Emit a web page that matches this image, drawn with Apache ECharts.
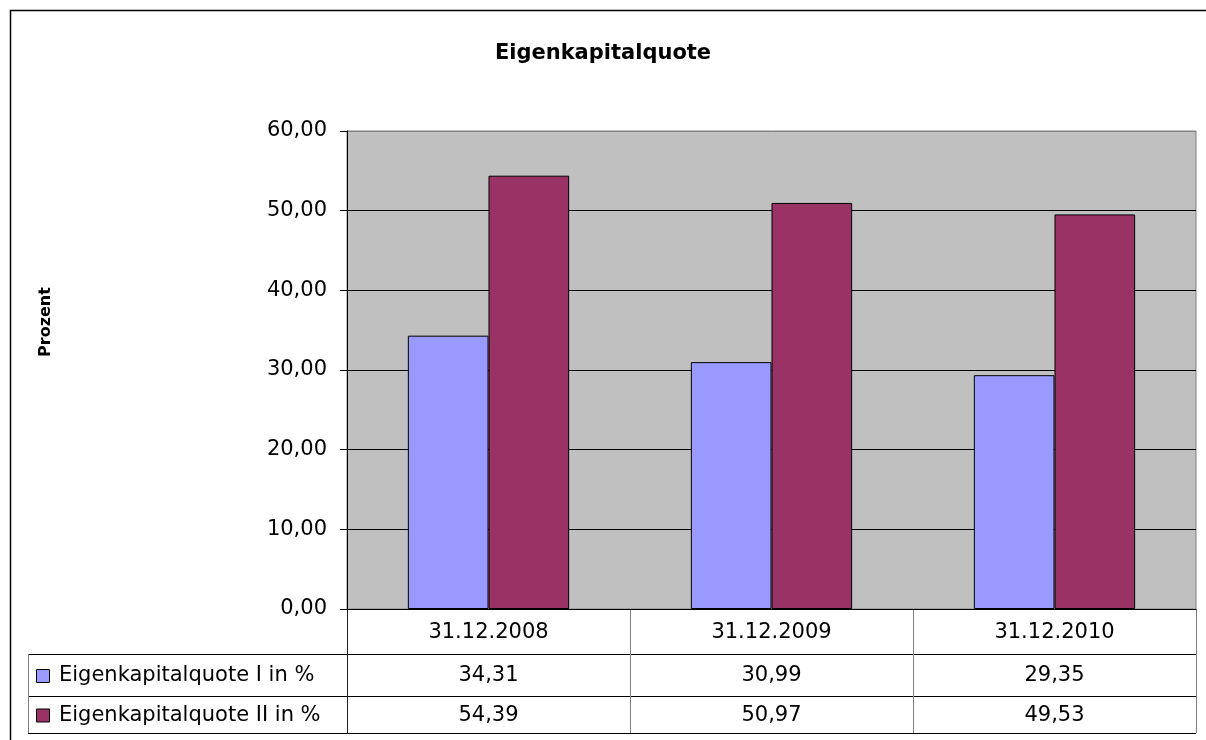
<!DOCTYPE html>
<html>
<head>
<meta charset="utf-8">
<script src="https://cdn.jsdelivr.net/npm/echarts@6/dist/echarts.min.js"></script>
<style>
html, body { margin: 0; padding: 0; background: #fff; }
#chart { width: 1206px; height: 740px; }
</style>
</head>
<body>
<div id="chart"></div>
<script>
// data
const categories = ['31.12.2008', '31.12.2009', '31.12.2010'];
const seriesNames = ['Eigenkapitalquote I in %', 'Eigenkapitalquote II in %'];
const quoteI = [34.31, 30.99, 29.35];
const quoteII = [54.39, 50.97, 49.53];
const colors = ['#9999FF', '#993366'];

const FONT = 'DejaVu Sans';
const fmt = v => v.toFixed(2).replace('.', ',');

// plot layout
const gridLeft = 347, gridRight = 1196, gridTop = 131, axisY = 609;
const rowLines = [axisY, 654, 696, 733];   // table row borders
const tableLeft = 28;

var chart = echarts.init(document.getElementById('chart'));

// data table under the plot + frame + axis title
function tableGraphics() {
    const g = [];
    const catW = (gridRight - gridLeft) / categories.length;
    const line = (x1, y1, x2, y2, c) => g.push({
        type: 'line', silent: true,
        shape: { x1: x1, y1: y1, x2: x2, y2: y2 },
        style: { stroke: c, lineWidth: 1 }
    });
    // outer chart frame
    g.push({ type: 'rect', shape: { x: 10.5, y: 10.5, width: 1300, height: 800 },
        style: { fill: null, stroke: '#000', lineWidth: 1.5 }, silent: true });
    // y axis title
    g.push({ type: 'text', silent: true, x: 46, y: 322, rotation: Math.PI / 2,
        style: { text: 'Prozent', font: 'bold 16px ' + FONT, fill: '#000', align: 'center', verticalAlign: 'middle' } });
    // horizontal lines
    for (let i = 1; i < rowLines.length; i++) line(tableLeft, rowLines[i] + 0.5, gridRight, rowLines[i] + 0.5, '#000');
    line(tableLeft + 0.5, rowLines[1], tableLeft + 0.5, rowLines[3], '#808080');
    line(gridLeft + 0.5, axisY, gridLeft + 0.5, rowLines[3], '#202020');
    for (let i = 1; i <= categories.length; i++) {
        const x = Math.round(gridLeft + catW * i) + 0.5;
        line(x, axisY, x, rowLines[3], '#808080');
    }
    const rows = [categories, quoteI.map(fmt), quoteII.map(fmt)];
    rows.forEach((r, ri) => {
        const yc = (rowLines[ri] + rowLines[ri + 1]) / 2 + 1;
        r.forEach((t, ci) => g.push({
            type: 'text', silent: true,
            x: gridLeft + catW * (ci + 0.5), y: yc,
            style: { text: t, font: '21px ' + FONT, fill: '#000', align: 'center', verticalAlign: 'middle' }
        }));
    });
    seriesNames.forEach((n, i) => {
        const yc = (rowLines[i + 1] + rowLines[i + 2]) / 2 + 1;
        g.push({ type: 'rect', silent: true, shape: { x: 36.5, y: yc - 6.5, width: 13, height: 13 },
            style: { fill: colors[i], stroke: '#000', lineWidth: 1 } });
        g.push({ type: 'text', silent: true, x: 59, y: yc,
            style: { text: n, font: '21px ' + FONT, fill: '#000', align: 'left', verticalAlign: 'middle' } });
    });
    return g;
}

var option = {
    animation: false,
    backgroundColor: '#fff',
    textStyle: { fontFamily: FONT },
    title: {
        text: 'Eigenkapitalquote',
        left: 'center',
        top: 38,
        textStyle: { fontFamily: FONT, fontSize: 21, fontWeight: 'bold', color: '#000' }
    },
    grid: {
        left: gridLeft, right: 1206 - gridRight, top: gridTop, bottom: 740 - axisY,
        show: true, backgroundColor: '#C0C0C0', borderColor: '#808080', borderWidth: 1
    },
    xAxis: {
        type: 'category',
        data: categories,
        axisLine: { show: true, lineStyle: { color: '#000' } },
        axisTick: { show: false },
        axisLabel: { show: false }
    },
    yAxis: {
        type: 'value',
        min: 0, max: 60, interval: 10,
        axisLine: { show: true, lineStyle: { color: '#000' } },
        axisTick: { show: true, length: 7, lineStyle: { color: '#000' } },
        axisLabel: { formatter: fmt, fontFamily: FONT, fontSize: 21, color: '#000', margin: 20 },
        splitLine: { show: true, lineStyle: { color: ['#000', '#000', '#000', '#000', '#000', '#000', '#808080'], width: 1 } }
    },
    series: [
        { name: seriesNames[0], type: 'bar', data: quoteI, barGap: '0%', barCategoryGap: '43%',
          itemStyle: { color: colors[0], borderColor: '#000', borderWidth: 1 } },
        { name: seriesNames[1], type: 'bar', data: quoteII, barGap: '0%', barCategoryGap: '43%',
          itemStyle: { color: colors[1], borderColor: '#000', borderWidth: 1 } }
    ],
    graphic: tableGraphics()
};
chart.setOption(option);
</script>
</body>
</html>
